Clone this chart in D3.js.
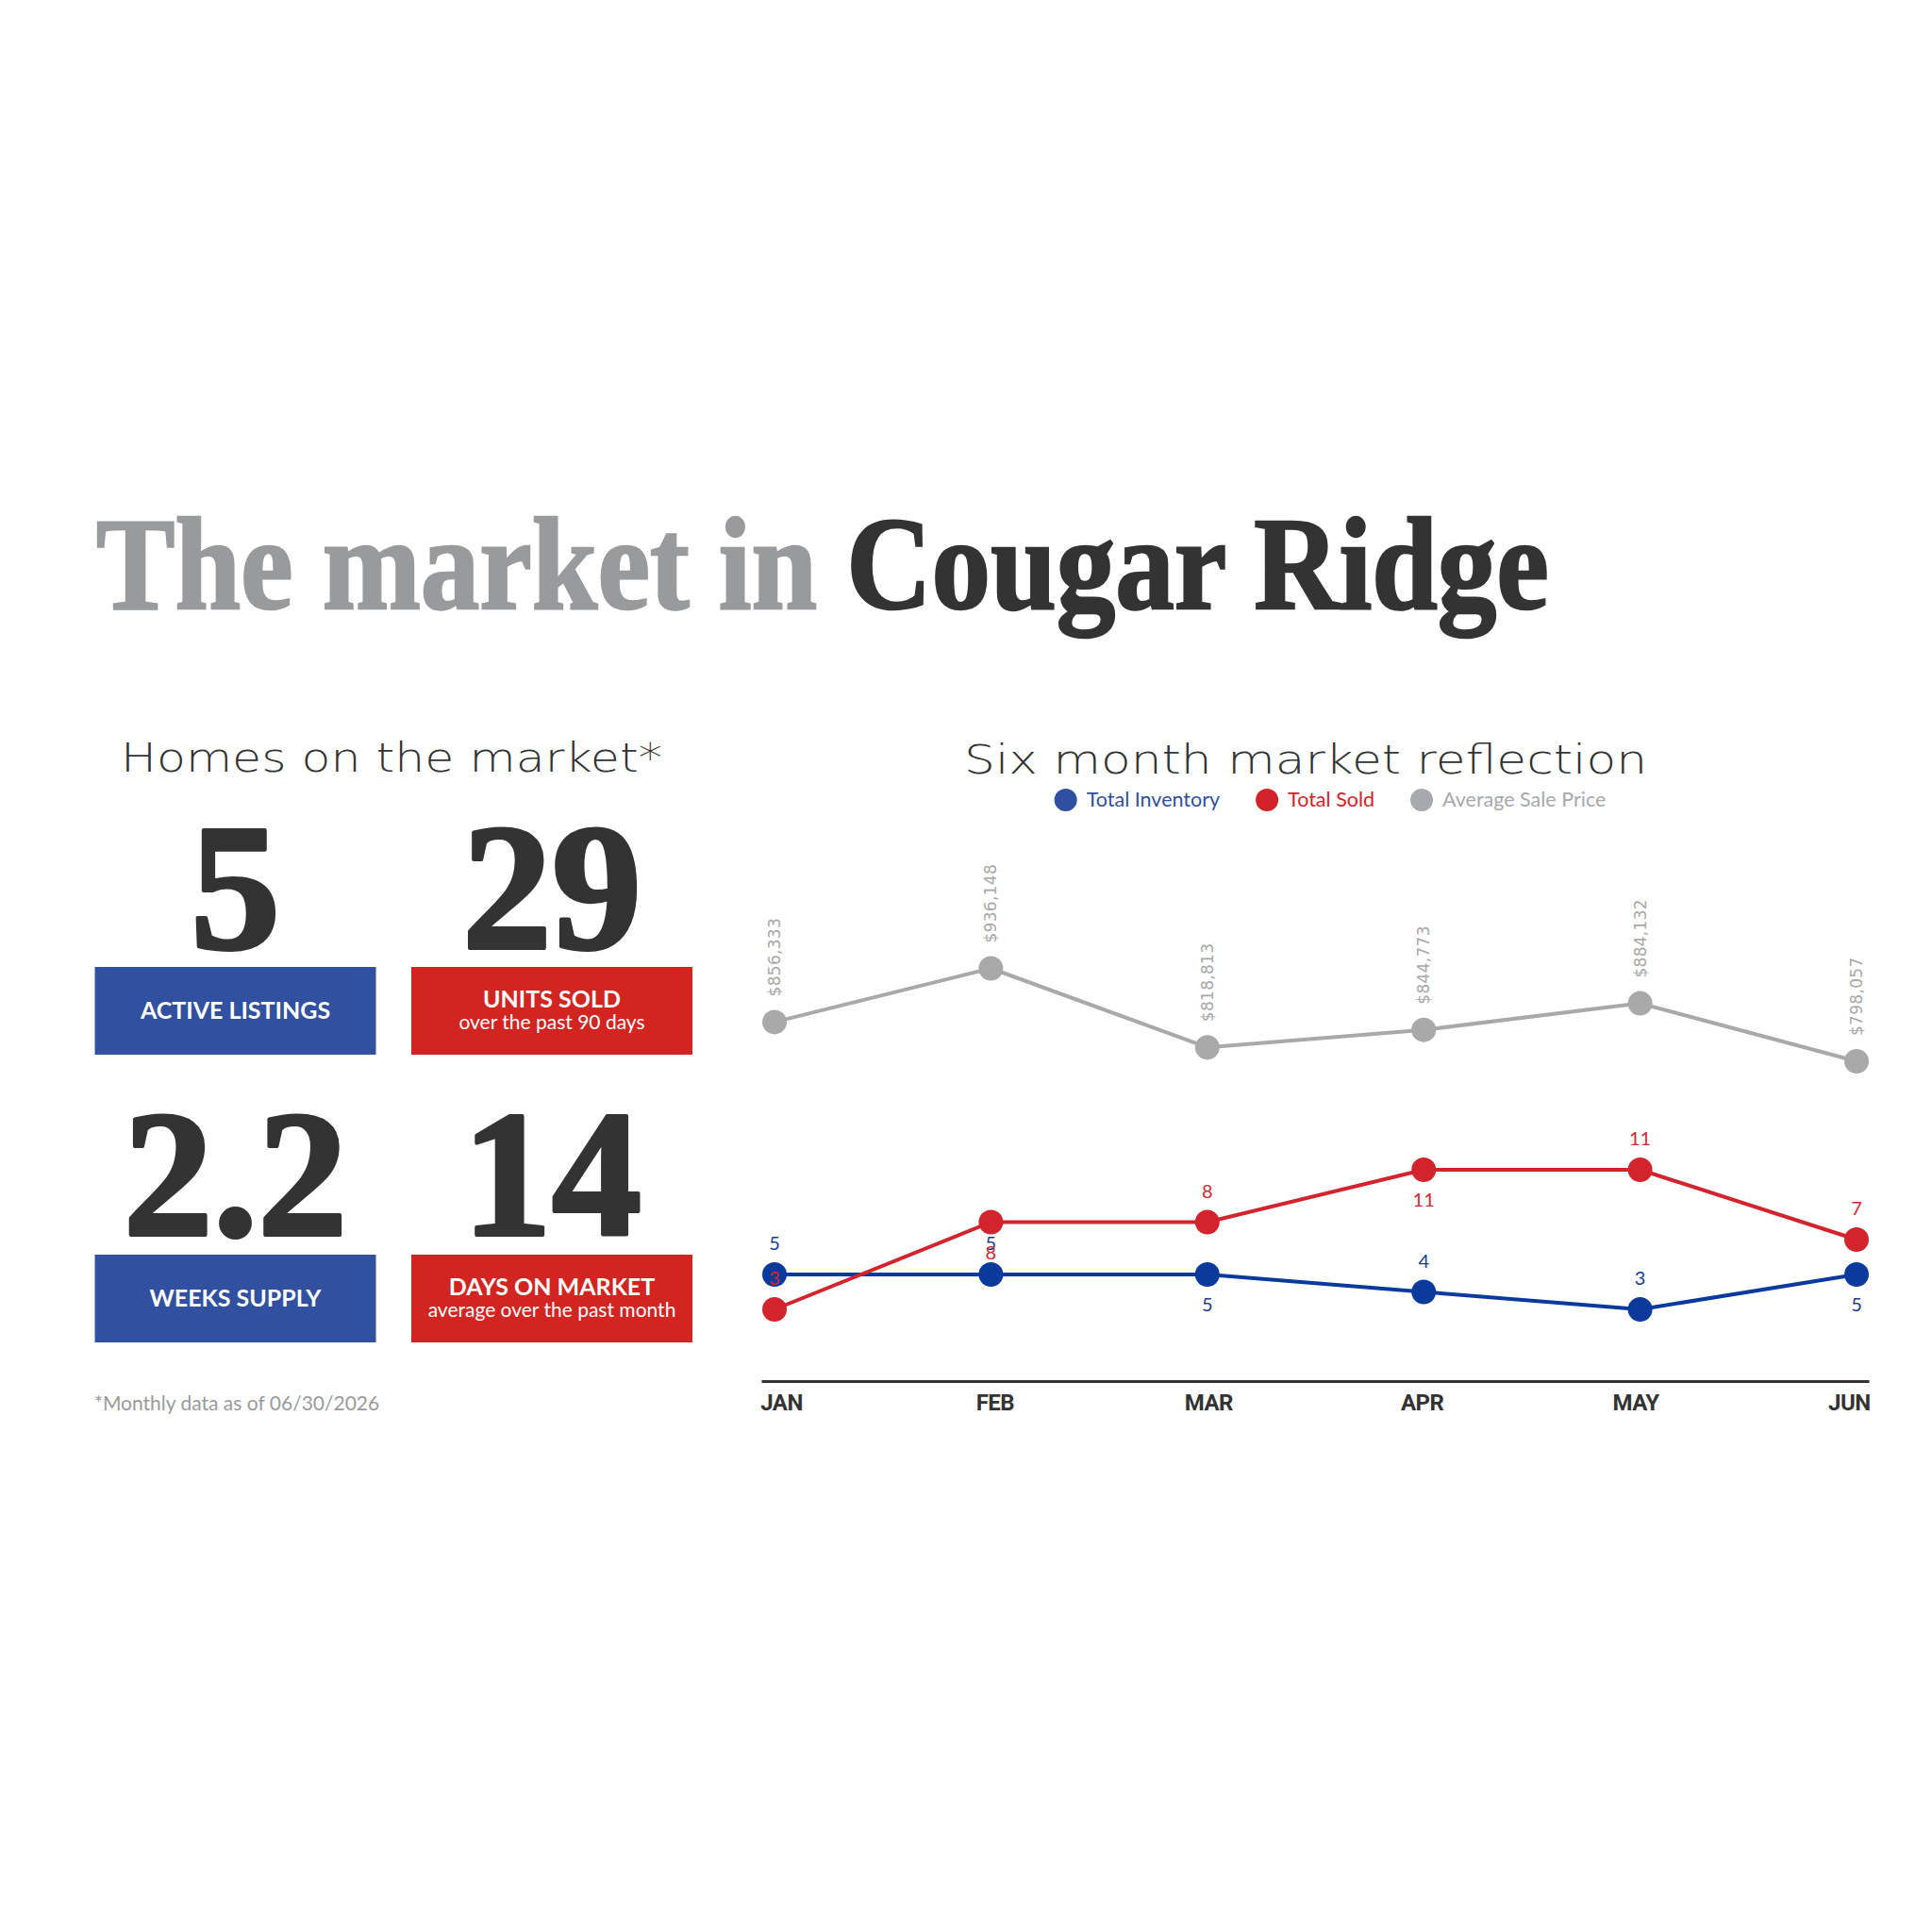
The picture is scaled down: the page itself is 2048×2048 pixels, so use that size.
<!DOCTYPE html>
<html>
<head>
<meta charset="utf-8">
<script src="https://cdn.jsdelivr.net/npm/d3@7"></script>
<style>
  html, body { margin: 0; padding: 0; background: #fff; }
  svg { display: block; }
</style>
</head>
<body>
<script>
// chart values
var months = ["JAN", "FEB", "MAR", "APR", "MAY", "JUN"];
var totalInventory = [5, 5, 5, 4, 3, 5];
var totalSold = [3, 8, 8, 11, 11, 7];
var avgSalePrice = [856333, 936148, 818813, 844773, 884132, 798057];
// which side of the dot the value label sits on
var inventoryLabelSide = ["above", "above", "below", "above", "above", "below"];
var soldLabelSide = ["above", "below", "above", "below", "above", "above"];
var seriesNames = ["Total Inventory", "Total Sold", "Average Sale Price"];

var statValues = ["5", "29", "2.2", "14"];
var statTitles = ["ACTIVE LISTINGS", "UNITS SOLD", "WEEKS SUPPLY", "DAYS ON MARKET"];
var statSubtitles = ["", "over the past 90 days", "", "average over the past month"];

var width = 2048,
    height = 2048;

var colors = {
    blueBox: "#31509f",
    redBox: "#d22421",
    invLine: "#0b3a9d",
    soldLine: "#d3242e",
    price: "#a9a9a9",
    dark: "#333333",
    grey: "#999a9c"
};
var legendColors = ["#2f4fa0", "#d2232a", "#a7a9ac"];
var labelColors = ["#1d3c8f", "#cf2a35", "#a8a8a8"];

var svg = d3.select("body").append("svg")
    .attr("width", width)
    .attr("height", height);

svg.append("rect").attr("width", width).attr("height", height).attr("fill", "#fff");

// ---- big title, squeezed to the reference width
var title = svg.append("text")
    .attr("x", 0)
    .attr("y", 0)
    .style("font-family", "'Liberation Serif', serif")
    .style("font-weight", 700)
    .style("font-size", "140px");
title.append("tspan").attr("fill", colors.grey).attr("stroke", colors.grey).attr("stroke-width", 2.5).text("The market in ");
title.append("tspan").attr("fill", colors.dark).attr("stroke", colors.dark).attr("stroke-width", 2.5).text("Cougar Ridge");
var tb = title.node().getBBox();
var sx = 1540 / tb.width;
title.attr("transform", "translate(" + (102 - tb.x * sx) + ",645) scale(" + sx + ",1)");

// ---- section headings
function heading(txt, cx, y, len) {
    svg.append("text")
        .attr("x", cx)
        .attr("y", y)
        .attr("text-anchor", "middle")
        .attr("textLength", len)
        .attr("lengthAdjust", "spacingAndGlyphs")
        .attr("fill", colors.dark)
        .style("font-family", "'DejaVu Sans', sans-serif")
        .style("font-size", "43px")
        .style("font-weight", 300)
        .text(txt);
}
heading("Homes on the market*", 415, 818, 574);
heading("Six month market reflection", 1384, 820, 724);

// ---- stat tiles
var colX = [100.5, 436],
    boxW = 298,
    boxH = 93,
    numBase = [1005, 1309],
    boxTop = [1025, 1330];

statValues.forEach(function(v, i) {
    var col = i % 2, row = Math.floor(i / 2);
    var x0 = colX[col], cx = x0 + boxW / 2;
    svg.append("text")
        .attr("x", cx)
        .attr("y", numBase[row])
        .attr("text-anchor", "middle")
        .attr("fill", colors.dark)
        .attr("stroke", colors.dark)
        .attr("stroke-width", 4)
        .attr("stroke-linejoin", "round")
        .style("font-family", "'Liberation Serif', serif")
        .style("font-weight", 700)
        .style("font-size", "190px")
        .text(v);

    svg.append("rect")
        .attr("x", x0)
        .attr("y", boxTop[row])
        .attr("width", boxW)
        .attr("height", boxH)
        .attr("fill", col === 0 ? colors.blueBox : colors.redBox);

    var hasSub = statSubtitles[i] !== "";
    svg.append("text")
        .attr("x", cx)
        .attr("y", boxTop[row] + (hasSub ? 43 : 55))
        .attr("text-anchor", "middle")
        .attr("fill", "#fff")
        .style("font-family", "Lato, sans-serif")
        .style("font-weight", 700)
        .style("font-size", "25px")
        .text(statTitles[i]);
    if (hasSub) {
        svg.append("text")
            .attr("x", cx)
            .attr("y", boxTop[row] + 66)
            .attr("text-anchor", "middle")
            .attr("fill", "#fff")
            .style("font-family", "Lato, sans-serif")
            .style("font-size", "21px")
            .text(statSubtitles[i]);
    }
});

svg.append("text")
    .attr("x", 100)
    .attr("y", 1495)
    .attr("fill", colors.grey)
    .style("font-family", "Lato, sans-serif")
    .style("font-size", "21px")
    .text("*Monthly data as of 06/30/2026");

// ---- legend
var legend = svg.append("g");
var lx = 0;
seriesNames.forEach(function(name, i) {
    var g = legend.append("g").attr("transform", "translate(" + lx + ",0)");
    g.append("circle").attr("cx", 12).attr("cy", 0).attr("r", 12).attr("fill", legendColors[i]);
    var t = g.append("text")
        .attr("x", 34)
        .attr("y", 7)
        .attr("fill", legendColors[i])
        .style("font-family", "Lato, sans-serif")
        .style("font-size", "21.5px")
        .text(name);
    lx += 34 + t.node().getComputedTextLength() + 38;
});
var legendW = lx - 38;
legend.attr("transform", "translate(" + (1410 - legendW / 2) + ",848)");

// ---- line chart
var x = d3.scalePoint().domain(months).range([821, 1968]);
var y = d3.scaleLinear().domain([0, 11]).range([1443.5, 1240]);
var yPrice = d3.scaleLinear().domain([798057, 936148]).range([1125, 1026.5]);

// month axis
var xLabels = d3.scalePoint().domain(months).range([807, 1981]).padding(0.093);
var axis = svg.append("g")
    .attr("transform", "translate(0,1464)")
    .call(d3.axisBottom(xLabels).tickSize(0).tickSizeOuter(0).tickPadding(14));
axis.select(".domain").attr("stroke", colors.dark).attr("stroke-width", 3);
axis.selectAll("text")
    .attr("fill", colors.dark)
    .style("font-family", "Roboto, sans-serif")
    .style("font-weight", 700)
    .style("font-size", "24px")
    .style("letter-spacing", "-0.5px");

var line = d3.line()
    .x(function(d) { return x(d.m); });

function drawSeries(values, yScale, color, r) {
    var data = values.map(function(v, i) { return {m: months[i], v: v}; });
    svg.append("path")
        .datum(data)
        .attr("fill", "none")
        .attr("stroke", color)
        .attr("stroke-width", 4)
        .attr("stroke-linejoin", "round")
        .attr("d", line.y(function(d) { return yScale(d.v); }));
    svg.append("g").selectAll("circle")
        .data(data)
      .enter().append("circle")
        .attr("cx", function(d) { return x(d.m); })
        .attr("cy", function(d) { return yScale(d.v); })
        .attr("r", r)
        .attr("fill", color);
    return data;
}

var priceData = drawSeries(avgSalePrice, yPrice, colors.price, 13);
var invData = drawSeries(totalInventory, y, colors.invLine, 13);
var soldData = drawSeries(totalSold, y, colors.soldLine, 13);

var pformat = d3.format("$,");
svg.append("g").selectAll("text")
    .data(priceData)
  .enter().append("text")
    .attr("transform", function(d) {
        return "translate(" + (x(d.m) + 6) + "," + (yPrice(d.v) - 27) + ") rotate(-90)";
    })
    .attr("fill", labelColors[2])
    .style("font-family", "'DejaVu Sans', sans-serif")
    .style("font-size", "17px")
    .style("letter-spacing", "0.3px")
    .text(function(d) { return pformat(d.v); });

function countLabels(data, sides, color) {
    svg.append("g").selectAll("text")
        .data(data)
      .enter().append("text")
        .attr("x", function(d) { return x(d.m); })
        .attr("y", function(d, i) {
            return y(d.v) + (sides[i] === "above" ? -26 : 39);
        })
        .attr("text-anchor", "middle")
        .attr("fill", color)
        .style("font-family", "Lato, sans-serif")
        .style("font-size", "20px")
        .text(function(d) { return d.v; });
}
countLabels(invData, inventoryLabelSide, labelColors[0]);
countLabels(soldData, soldLabelSide, labelColors[1]);
</script>
</body>
</html>
